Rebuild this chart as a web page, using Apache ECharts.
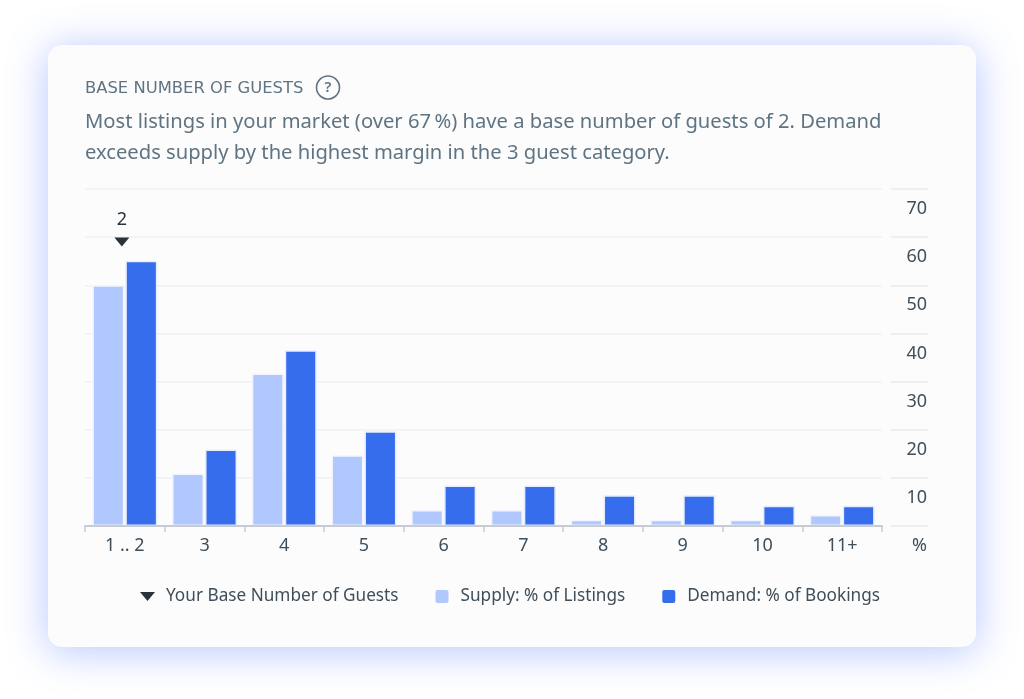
<!DOCTYPE html>
<html style='height: 100%'>
<head>
    <meta charset='utf-8'>
    <style>
        body { margin: 0; height: 100%; background: #fff; overflow: hidden; }
        #card { position: absolute; left: 48px; top: 45px; width: 928px; height: 602px; border-radius: 14px;
                background: #fcfcfd; box-shadow: 0 4px 40px rgba(60, 105, 255, 0.38); }
        #container { position: absolute; left: 0; top: 0; width: 1024px; height: 699px; }
    </style>
</head>
<body>
    <div id='card'></div>
    <div id='container'></div>
    <script src='https://cdn.jsdelivr.net/npm/echarts@6/dist/echarts.min.js'></script>
    <script type="text/javascript">

var categories = ['1 .. 2', '3', '4', '5', '6', '7', '8', '9', '10', '11+'];
var supply = [50, 10.9, 31.7, 14.7, 3.3, 3.3, 1.3, 1.3, 1.3, 2.3];
var demand = [55.1, 15.9, 36.5, 19.7, 8.4, 8.4, 6.4, 6.4, 4.2, 4.2];
var yourBase = [[0, 59]];
var yourBaseLabel = '2';
var heading = 'BASE NUMBER OF GUESTS';
var description = 'Most listings in your market (over 67\u202F%) have a base number of guests of 2. Demand\nexceeds supply by the highest margin in the 3 guest category.';

var font = '"Noto Sans", sans-serif';
var downTriangle = 'path://M0 0L15 0L7.5 9Z';
var roundSquare = 'path://M2 0H11Q13 0 13 2V11Q13 13 11 13H2Q0 13 0 11V2Q0 0 2 0Z';

var myChart = echarts.init(document.getElementById('container'));

var option = {
    animation: false,
    textStyle: { fontFamily: font },
    title: {
        text: heading,
        subtext: description,
        left: 80,
        top: 76,
        itemGap: 10,
        textStyle: { fontFamily: '"DejaVu Sans", sans-serif', fontSize: 16.4, fontWeight: 'normal', color: '#5f7482' },
        subtextStyle: { fontFamily: font, fontSize: 20.2, color: '#5f7482', lineHeight: 31 }
    },
    graphic: [
        { type: 'circle', shape: { cx: 328, cy: 87.5, r: 11.5 }, style: { fill: 'none', stroke: '#5f7482', lineWidth: 1.6 } },
        { type: 'text', x: 328, y: 88, style: { text: '?', fill: '#5f7482', font: '600 15px ' + font, textAlign: 'center', textVerticalAlign: 'middle' } }
    ],
    legend: {
        left: 135,
        top: 583,
        itemWidth: 15,
        itemHeight: 13,
        itemGap: 37,
        itemStyle: { borderWidth: 0 },
        textStyle: { fontSize: 17.2, color: '#3f4e59', padding: [0, 0, 0, 6] },
        data: [
            { name: 'Your Base Number of Guests', icon: downTriangle },
            { name: 'Supply: % of Listings', icon: roundSquare },
            { name: 'Demand: % of Bookings', icon: roundSquare }
        ]
    },
    grid: { left: 85, right: 142, top: 189, bottom: 173 },
    xAxis: {
        type: 'category',
        data: categories,
        z: 5,
        axisLine: { lineStyle: { color: '#c6ccd2', width: 2 } },
        axisTick: { show: true, length: 6, lineStyle: { color: '#c6ccd2', width: 1.5 } },
        axisLabel: { color: '#3f4e59', fontSize: 18, margin: 11 }
    },
    yAxis: {
        type: 'value',
        position: 'right',
        offset: 9,
        min: 0,
        max: 70,
        interval: 10,
        axisLine: { show: false },
        axisTick: { show: true, length: 37, lineStyle: { color: '#e8eaec', width: 1.5 } },
        splitLine: { lineStyle: { color: '#f1f2f4', width: 1.5 } },
        axisLabel: {
            color: '#3f4e59',
            fontSize: 18,
            margin: 36,
            align: 'right',
            verticalAlign: 'top',
            padding: [11, 0, 0, 0],
            formatter: function(val) { return val === 0 ? '%' : val; }
        }
    },
    series: [
        {
            name: 'Your Base Number of Guests',
            type: 'scatter',
            data: yourBase,
            symbol: downTriangle,
            symbolSize: [15, 9],
            symbolOffset: [-3, 0],
            itemStyle: { color: '#29333a', opacity: 1 },
            label: {
                show: true,
                position: 'top',
                distance: 9,
                color: '#29333a',
                fontSize: 18,
                formatter: yourBaseLabel
            }
        },
        {
            name: 'Supply: % of Listings',
            type: 'bar',
            data: supply,
            barWidth: 32,
            barGap: '3%',
            itemStyle: { color: '#b1c8ff', borderColor: '#f2f5ff', borderWidth: 1.5 }
        },
        {
            name: 'Demand: % of Bookings',
            type: 'bar',
            data: demand,
            barWidth: 32,
            itemStyle: { color: '#366ded', borderColor: '#e6edff', borderWidth: 1.5 }
        }
    ]
};

myChart.setOption(option, true);
       </script>
</body>
</html>
